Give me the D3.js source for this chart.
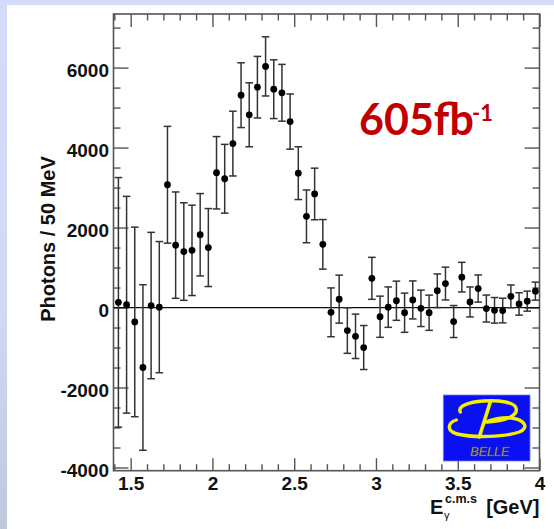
<!DOCTYPE html>
<html>
<head>
<meta charset="utf-8">
<script src="https://cdn.jsdelivr.net/npm/d3@7"></script>
<style>
  html, body { margin: 0; padding: 0; background: #ffffff; }
  svg { display: block; }
</style>
</head>
<body>
<svg id="chart" width="554" height="529"></svg>
<script>
// bin centres (50 MeV bins), photon yields and errors
var energy = [1.425, 1.475, 1.525, 1.575, 1.625, 1.675, 1.725, 1.775, 1.825, 1.875,
              1.925, 1.975, 2.025, 2.075, 2.125, 2.175, 2.225, 2.275, 2.325, 2.375,
              2.425, 2.475, 2.525, 2.575, 2.625, 2.675, 2.725, 2.775, 2.825, 2.875,
              2.925, 2.975, 3.025, 3.075, 3.125, 3.175, 3.225, 3.275, 3.325, 3.375,
              3.425, 3.475, 3.525, 3.575, 3.625, 3.675, 3.725, 3.775, 3.825, 3.875,
              3.925, 3.975];
var photons = [130, 70, -360, -1500, 50, 10, 3070, 1560, 1400, 1430,
               1820, 1500, 3370, 3220, 4100, 5310, 4820, 5510, 6030, 5460,
               5370, 4650, 3360, 2280, 2840, 1580, -120, 210, -575, -720,
               -1000, 730, -230, 10, 170, -130, 190, -20, -130, 420,
               600, -350, 760, 140, 475, -25, -70, -75, 280, 90,
               160, 410];
var errors = [3120, 2710, 2370, 2070, 1830, 1640, 1460, 1330, 1220, 1130,
              1030, 975, 905, 860, 810, 810, 800, 770, 740, 735,
              710, 690, 660, 660, 645, 620, 610, 600, 570, 555,
              550, 525, 515, 505, 490, 490, 475, 455, 440, 420,
              410, 400, 370, 375, 340, 337, 320, 308, 285, 280,
              250, 225];
var xMajor = [1.5, 2, 2.5, 3, 3.5, 4];
var xLabels = ["1.5", "2", "2.5", "3", "3.5", "4"];
var yMajor = [-4000, -2000, 0, 2000, 4000, 6000];
var yLabels = ["-4000", "-2000", "0", "2000", "4000", "6000"];

(function(){
  var svg = d3.select("#chart");

  // slide background
  var defs = svg.append("defs");
  var grad = defs.append("linearGradient")
    .attr("id", "bg")
    .attr("x1", 0).attr("y1", 0).attr("x2", 0).attr("y2", 1);
  grad.append("stop").attr("offset", "0%").attr("stop-color", "#d3dcfb");
  grad.append("stop").attr("offset", "60%").attr("stop-color", "#cfd8f4");
  grad.append("stop").attr("offset", "100%").attr("stop-color", "#bfc9dc");
  svg.append("rect")
    .attr("x", 0).attr("y", 0).attr("width", 554).attr("height", 529)
    .attr("fill", "url(#bg)");
  svg.append("rect")
    .attr("x", 7).attr("y", 5).attr("width", 547).attr("height", 524)
    .attr("fill", "#ffffff");

  var pLeft = 113.5, pRight = 539.5, pTop = 14, pBottom = 470.7;

  var x = d3.scaleLinear().domain([1.395, 4.0]).range([pLeft, pRight]);
  var y = d3.scaleLinear().domain([-4080, 7340]).range([pBottom, pTop]);

  var frameColor = "#555555";

  // minor ticks
  var xMinor = d3.range(1.4, 4.0001, 0.1).filter(function(v){
    return xMajor.every(function(m){ return Math.abs(m - v) > 1e-6; });
  });
  var yMinor = d3.range(-4000, 7001, 500).filter(function(v){
    return yMajor.indexOf(v) < 0;
  });

  function styleAxis(g){
    g.select(".domain").remove();
    g.selectAll(".tick line")
      .attr("stroke", frameColor)
      .attr("stroke-width", 1.4);
    g.selectAll(".tick text")
      .attr("fill", "#111111")
      .attr("font-family", "'Liberation Sans', Arial, sans-serif")
      .attr("font-weight", "bold")
      .attr("font-size", "19px");
  }

  // y axes
  svg.append("g")
    .attr("transform", "translate(" + pLeft + ",0)")
    .call(d3.axisLeft(y).tickValues(yMinor).tickFormat("").tickSize(-7))
    .call(styleAxis);
  var yAx = svg.append("g")
    .attr("transform", "translate(" + pLeft + ",0)")
    .call(d3.axisLeft(y).tickValues(yMajor)
      .tickFormat(function(d,i){ return yLabels[i]; })
      .tickSize(-15).tickPadding(4.5))
    .call(styleAxis);
  yAx.selectAll(".tick text").attr("dy", "0.45em");

  svg.append("g")
    .attr("transform", "translate(" + pRight + ",0)")
    .call(d3.axisRight(y).tickValues(yMinor).tickFormat("").tickSize(-7))
    .call(styleAxis);
  svg.append("g")
    .attr("transform", "translate(" + pRight + ",0)")
    .call(d3.axisRight(y).tickValues(yMajor).tickFormat("").tickSize(-15))
    .call(styleAxis);

  // x axes
  svg.append("g")
    .attr("transform", "translate(0," + pBottom + ")")
    .call(d3.axisBottom(x).tickValues(xMinor).tickFormat("").tickSize(-6.5))
    .call(styleAxis);
  svg.append("g")
    .attr("transform", "translate(0," + pBottom + ")")
    .call(d3.axisBottom(x).tickValues(xMajor)
      .tickFormat(function(d,i){ return xLabels[i]; })
      .tickSize(-12.5).tickPadding(6))
    .call(styleAxis);
  svg.append("g")
    .attr("transform", "translate(0," + pTop + ")")
    .call(d3.axisTop(x).tickValues(xMinor).tickFormat("").tickSize(-6.5))
    .call(styleAxis);
  svg.append("g")
    .attr("transform", "translate(0," + pTop + ")")
    .call(d3.axisTop(x).tickValues(xMajor).tickFormat("").tickSize(-13))
    .call(styleAxis);

  // frame
  svg.append("rect")
    .attr("x", pLeft).attr("y", pTop)
    .attr("width", pRight - pLeft).attr("height", pBottom - pTop)
    .attr("fill", "none")
    .attr("stroke", frameColor)
    .attr("stroke-width", 1.6);

  // zero line
  svg.append("line")
    .attr("x1", pLeft).attr("x2", pRight)
    .attr("y1", y(0)).attr("y2", y(0))
    .attr("stroke", "#111111")
    .attr("stroke-width", 1.3);

  // error bars
  var pts = energy.map(function(e, i){
    return { e: e, v: photons[i], err: errors[i] };
  });
  var bars = svg.append("g").attr("class", "errbars")
    .attr("stroke", "#333333")
    .attr("stroke-width", 1.5);
  bars.selectAll("line.vert")
    .data(pts).enter()
    .append("line")
    .attr("class", "vert")
    .attr("x1", function(d){ return x(d.e); })
    .attr("x2", function(d){ return x(d.e); })
    .attr("y1", function(d){ return y(d.v + d.err); })
    .attr("y2", function(d){ return y(d.v - d.err); });
  bars.selectAll("line.captop")
    .data(pts).enter()
    .append("line")
    .attr("class", "captop")
    .attr("x1", function(d){ return x(d.e) - 3.8; })
    .attr("x2", function(d){ return x(d.e) + 3.8; })
    .attr("y1", function(d){ return y(d.v + d.err); })
    .attr("y2", function(d){ return y(d.v + d.err); });
  bars.selectAll("line.capbot")
    .data(pts).enter()
    .append("line")
    .attr("class", "capbot")
    .attr("x1", function(d){ return x(d.e) - 3.8; })
    .attr("x2", function(d){ return x(d.e) + 3.8; })
    .attr("y1", function(d){ return y(d.v - d.err); })
    .attr("y2", function(d){ return y(d.v - d.err); });

  // markers
  svg.append("g").selectAll("circle")
    .data(pts).enter()
    .append("circle")
    .attr("cx", function(d){ return x(d.e); })
    .attr("cy", function(d){ return y(d.v); })
    .attr("r", 3.4)
    .attr("fill", "#000000");

  // axis titles
  svg.append("text")
    .attr("transform", "translate(55,239) rotate(-90)")
    .attr("text-anchor", "middle")
    .attr("font-family", "'Liberation Sans', Arial, sans-serif")
    .attr("font-weight", "bold")
    .attr("font-size", "20px")
    .attr("fill", "#111111")
    .text("Photons / 50 MeV");

  var xt = svg.append("g")
    .attr("font-family", "'Liberation Sans', Arial, sans-serif")
    .attr("font-weight", "bold")
    .attr("fill", "#111111");
  xt.append("text").attr("x", 430).attr("y", 514).attr("font-size", "20px").text("E");
  xt.append("text").attr("x", 445).attr("y", 503).attr("font-size", "12.5px").text("c.m.s");
  xt.append("text").attr("x", 444).attr("y", 519).attr("font-size", "11px")
    .attr("font-weight", "normal").text("γ");
  xt.append("text").attr("x", 539.5).attr("y", 514).attr("font-size", "20px")
    .attr("text-anchor", "end").text("[GeV]");

  // luminosity label
  var lum = svg.append("g")
    .attr("font-family", "Lato, 'Open Sans', sans-serif")
    .attr("font-weight", "bold")
    .attr("fill", "#c00000");
  lum.append("text").attr("x", 359).attr("y", 135).attr("font-size", "43px").text("605fb");
  lum.append("text").attr("x", 472).attr("y", 120.5).attr("font-size", "22px").text("-1");

  // Belle logo
  var logo = svg.append("g").attr("transform", "translate(443.3,395)");
  logo.append("rect")
    .attr("width", 86.7).attr("height", 66)
    .attr("fill", "#0b10f2")
    .attr("stroke", "#6f7cff")
    .attr("stroke-width", 0.8);
  var yel = "#f2f000";
  logo.append("path")
    .attr("d", "M 17,17 C 14,11 26,7 40,6 C 56,5 72,7 73,14 C 74,21 62,26 44,27")
    .attr("fill", "none").attr("stroke", yel).attr("stroke-width", 3.4)
    .attr("stroke-linecap", "round");
  logo.append("path")
    .attr("d", "M 13,25 C 4,28 3,36 14,39 C 30,43 62,42 76,37 C 86,33 82,25 68,23 C 58,22 48,25 42,27")
    .attr("fill", "none").attr("stroke", yel).attr("stroke-width", 3.4)
    .attr("stroke-linecap", "round");
  logo.append("path")
    .attr("d", "M 47,7 L 36,42")
    .attr("fill", "none").attr("stroke", yel).attr("stroke-width", 3.6)
    .attr("stroke-linecap", "round");
  logo.append("text")
    .attr("x", 27).attr("y", 61)
    .attr("font-family", "'Liberation Sans', Arial, sans-serif")
    .attr("font-style", "italic")
    .attr("font-size", "12.5px")
    .attr("fill", "#d2c85a")
    .attr("stroke", "#4a4a20")
    .attr("stroke-width", 0.4)
    .text("BELLE");
})();
</script>
</body>
</html>
